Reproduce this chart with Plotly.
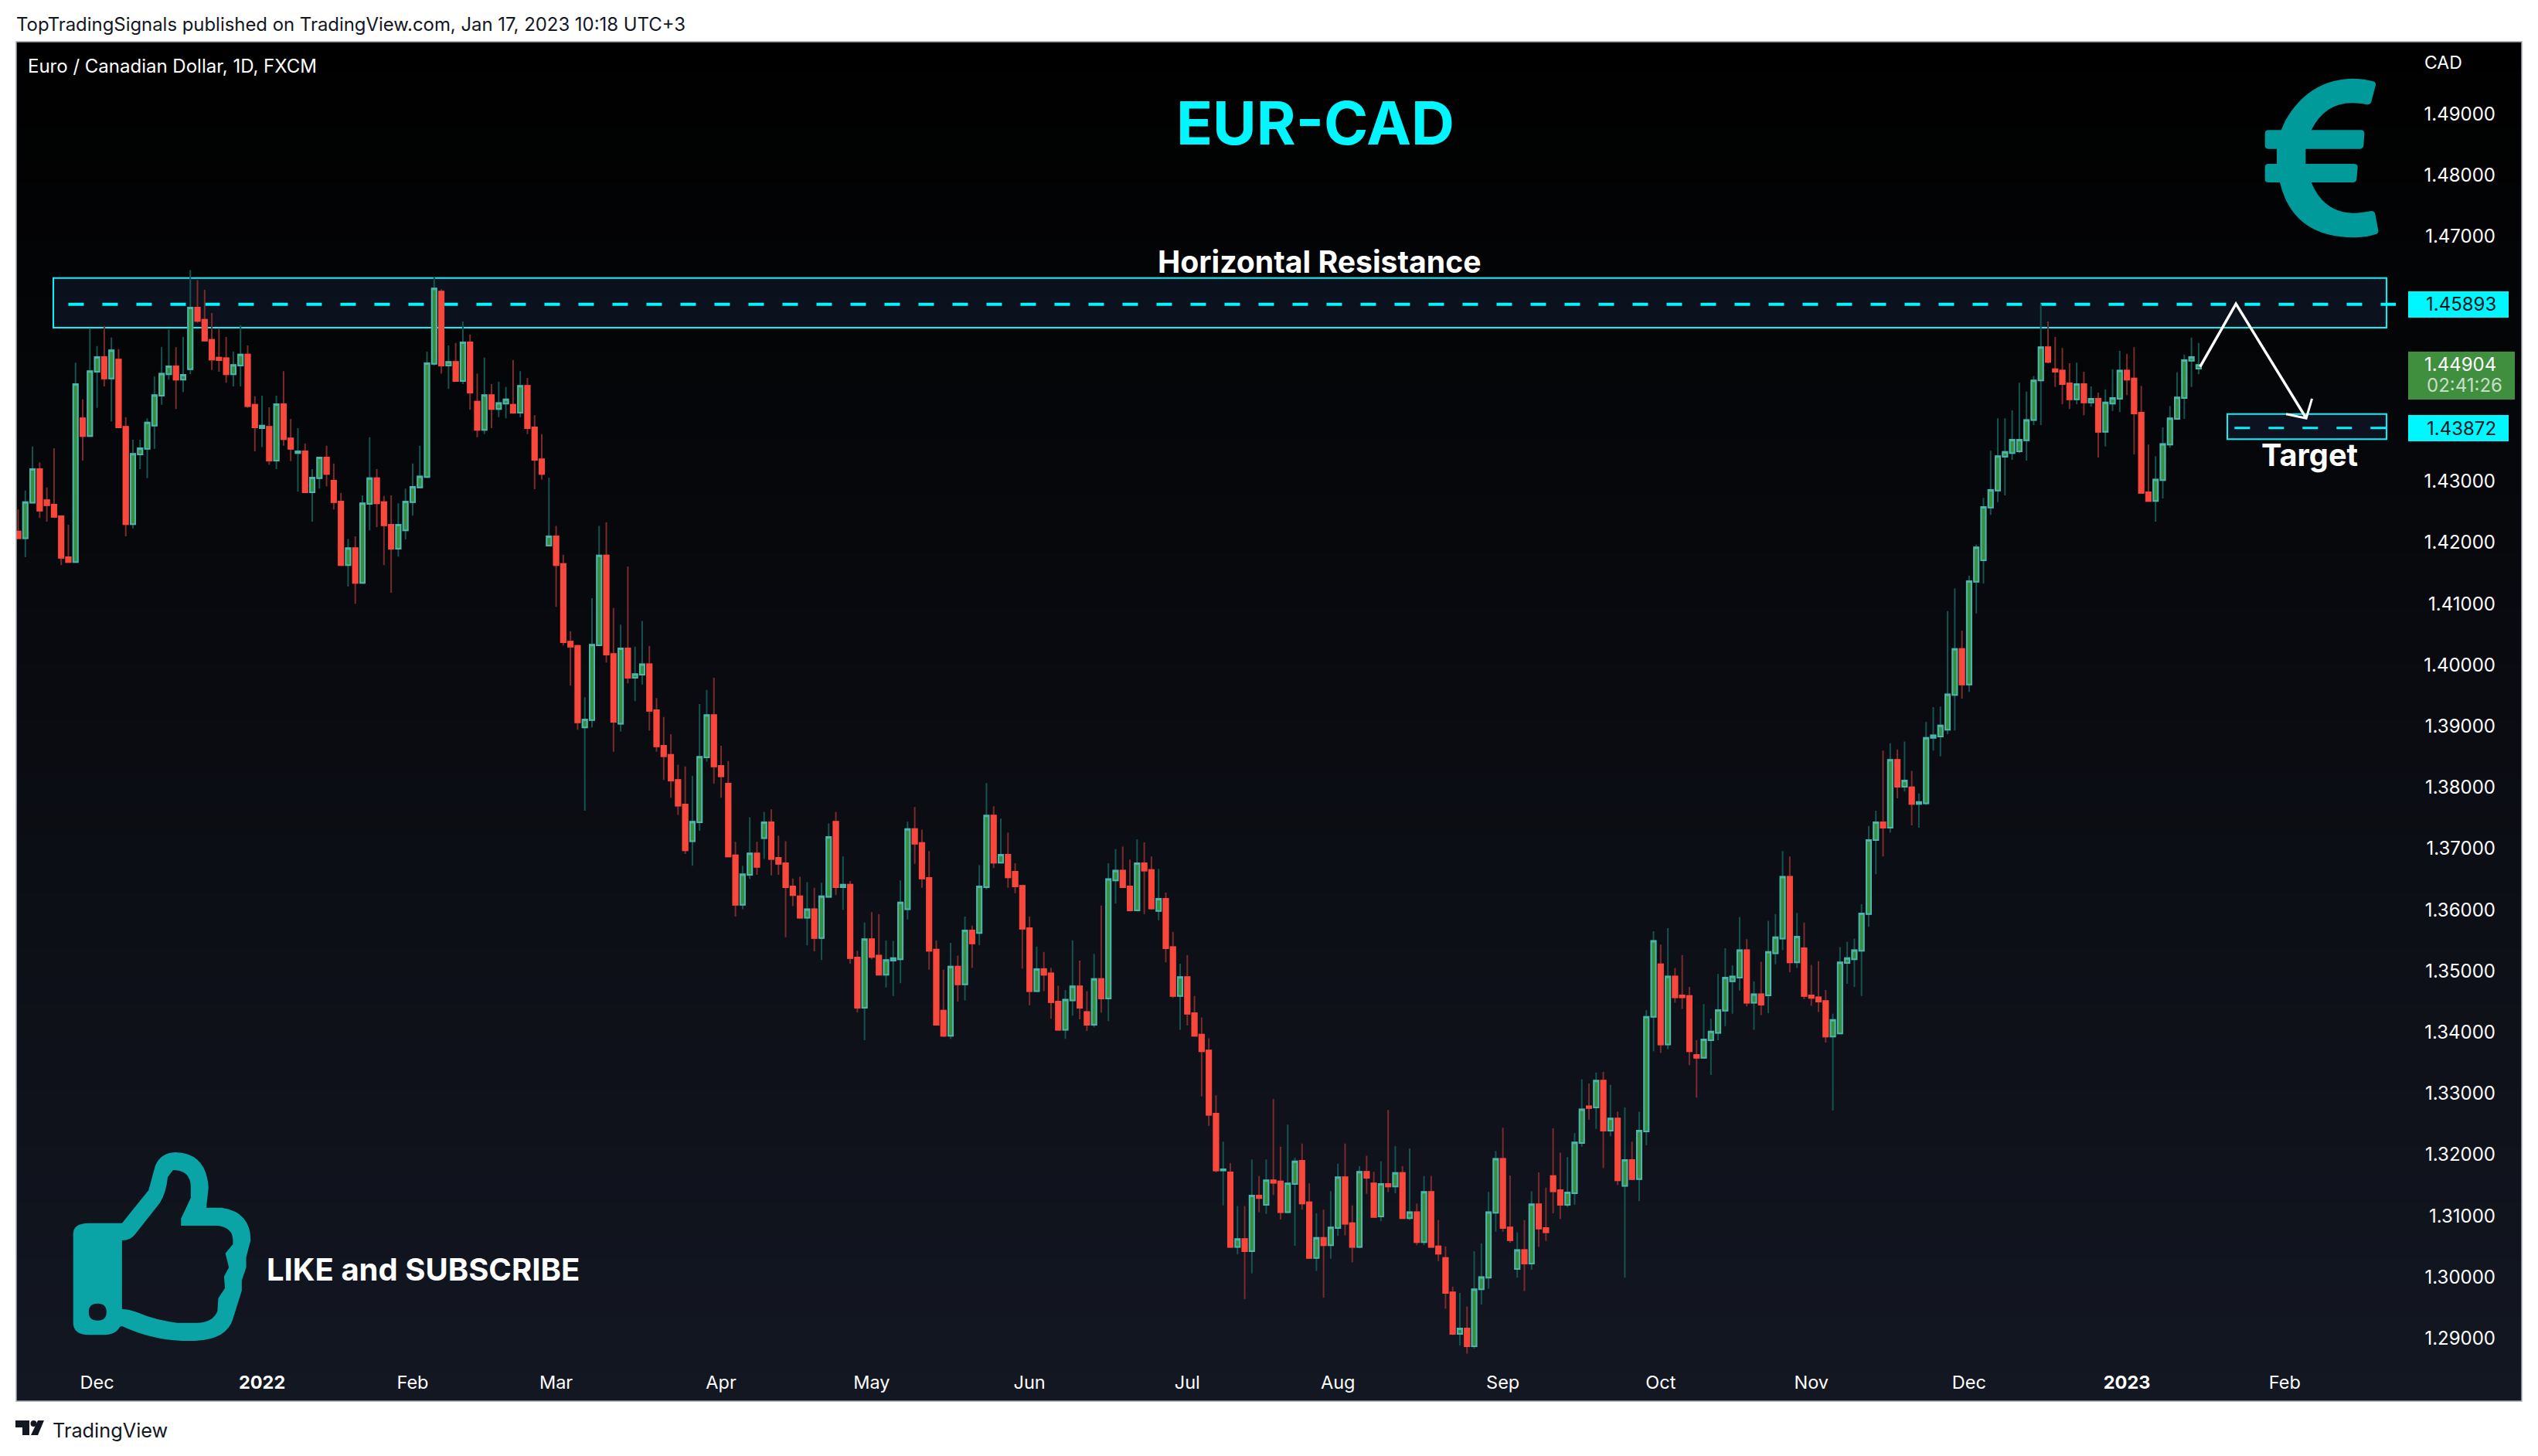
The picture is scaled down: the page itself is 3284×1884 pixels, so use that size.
import plotly.graph_objects as go
import numpy as np

open_ = [
1.4218,1.4207,1.4265,1.4320,1.4269,1.4262,1.4243,1.4176,1.4168,1.4403,
1.4374,1.4479,1.4503,1.4468,1.4499,1.4389,1.4230,1.4344,1.4353,1.4391,
1.4440,1.4475,1.4488,1.4466,1.4483,1.4584,1.4564,1.4531,1.4502,1.4501,
1.4475,1.4489,1.4507,1.4425,1.4387,1.4389,1.4334,1.4426,1.4370,1.4346,
1.4349,1.4282,1.4305,1.4339,1.4301,1.4267,1.4163,1.4191,1.4134,1.4263,
1.4305,1.4266,1.4229,1.4190,1.4220,1.4266,1.4290,1.4307,1.4492,1.4610,
1.4489,1.4495,1.4464,1.4527,1.4430,1.4384,1.4441,1.4418,1.4427,1.4425,
1.4412,1.4456,1.4388,1.4336,1.4195,1.4210,1.4165,1.4038,1.4031,1.3898,
1.3910,1.4032,1.4179,1.4018,1.3904,1.4027,1.3979,1.3984,1.4001,1.3926,
1.3868,1.3853,1.3812,1.3772,1.3712,1.3743,1.3849,1.3918,1.3835,1.3806,
1.3689,1.3608,1.3657,1.3692,1.3717,1.3743,1.3685,1.3676,1.3638,1.3622,
1.3587,1.3601,1.3554,1.3621,1.3744,1.3637,1.3641,1.3522,1.3440,1.3552,
1.3525,1.3494,1.3517,1.3519,1.3601,1.3732,1.3709,1.3652,1.3535,1.3435,
1.3394,1.3507,1.3478,1.3566,1.3562,1.3637,1.3754,1.3677,1.3690,1.3662,
1.3639,1.3570,1.3467,1.3503,1.3496,1.3450,1.3404,1.3452,1.3475,1.3433,
1.3412,1.3487,1.3455,1.3648,1.3664,1.3638,1.3599,1.3676,1.3665,1.3598,
1.3618,1.3539,1.3459,1.3490,1.3431,1.3396,1.3370,1.3267,1.3174,1.3171,
1.3049,1.3062,1.3042,1.3133,1.3118,1.3158,1.3156,1.3106,1.3152,1.3190,
1.3122,1.3031,1.3064,1.3052,1.3080,1.3163,1.3088,1.3049,1.3172,1.3153,
1.3099,1.3152,1.3148,1.3170,1.3096,1.3106,1.3057,1.3139,1.3050,1.3031,
1.2975,1.2907,1.2916,1.2887,1.2980,1.2999,1.3105,1.3193,1.3081,1.3013,
1.3044,1.3022,1.3119,1.3080,1.3165,1.3142,1.3118,1.3137,1.3219,1.3279,
1.3277,1.3321,1.3239,1.3259,1.3149,1.3191,1.3160,1.3238,1.3425,1.3511,
1.3380,1.3491,1.3460,1.3459,1.3363,1.3358,1.3387,1.3399,1.3435,1.3483,
1.3489,1.3534,1.3448,1.3462,1.3460,1.3529,1.3553,1.3654,1.3514,1.3537,
1.3460,1.3457,1.3451,1.3393,1.3398,1.3513,1.3519,1.3533,1.3593,1.3714,
1.3743,1.3734,1.3845,1.3801,1.3800,1.3773,1.3774,1.3881,1.3883,1.3894,
1.3951,1.4026,1.3968,1.4136,1.4171,1.4257,1.4285,1.4340,1.4346,1.4349,
1.4367,1.4400,1.4465,1.4519,1.4483,1.4481,1.4460,1.4434,1.4459,1.4429,
1.4435,1.4381,1.4427,1.4435,1.4481,1.4468,1.4412,1.4282,1.4268,1.4302,
1.4360,1.4402,1.4436,1.4497,1.4484]

high = [
1.4254,1.4285,1.4357,1.4331,1.4290,1.4354,1.4243,1.4229,1.4494,1.4434,
1.4550,1.4521,1.4554,1.4535,1.4516,1.4405,1.4368,1.4368,1.4403,1.4471,
1.4519,1.4548,1.4519,1.4536,1.4645,1.4629,1.4613,1.4575,1.4550,1.4536,
1.4512,1.4555,1.4522,1.4439,1.4440,1.4421,1.4440,1.4480,1.4402,1.4387,
1.4362,1.4320,1.4340,1.4358,1.4329,1.4281,1.4206,1.4210,1.4277,1.4372,
1.4320,1.4276,1.4277,1.4264,1.4288,1.4329,1.4358,1.4512,1.4634,1.4614,
1.4522,1.4526,1.4561,1.4540,1.4476,1.4502,1.4459,1.4463,1.4454,1.4498,
1.4480,1.4469,1.4408,1.4377,1.4306,1.4227,1.4180,1.4055,1.4033,1.3947,
1.4109,1.4227,1.4233,1.4093,1.4066,1.4161,1.4030,1.4072,1.4031,1.3946,
1.3915,1.3887,1.3837,1.3834,1.3819,1.3936,1.3959,1.3979,1.3868,1.3843,
1.3711,1.3672,1.3751,1.3711,1.3760,1.3764,1.3721,1.3712,1.3651,1.3654,
1.3645,1.3636,1.3644,1.3741,1.3760,1.3687,1.3647,1.3533,1.3579,1.3596,
1.3593,1.3550,1.3549,1.3648,1.3744,1.3768,1.3731,1.3696,1.3550,1.3502,
1.3546,1.3525,1.3589,1.3574,1.3673,1.3807,1.3769,1.3749,1.3726,1.3676,
1.3641,1.3589,1.3540,1.3531,1.3505,1.3476,1.3469,1.3550,1.3517,1.3467,
1.3528,1.3607,1.3676,1.3699,1.3703,1.3682,1.3715,1.3710,1.3687,1.3667,
1.3628,1.3564,1.3512,1.3526,1.3459,1.3424,1.3390,1.3297,1.3221,1.3186,
1.3116,1.3116,1.3192,1.3165,1.3192,1.3291,1.3213,1.3249,1.3195,1.3218,
1.3153,1.3104,1.3110,1.3140,1.3185,1.3218,1.3117,1.3181,1.3198,1.3172,
1.3189,1.3273,1.3214,1.3181,1.3210,1.3120,1.3165,1.3165,1.3093,1.3050,
1.2984,1.2974,1.2952,1.3042,1.3055,1.3139,1.3206,1.3244,1.3166,1.3073,
1.3093,1.3140,1.3171,1.3146,1.3243,1.3203,1.3196,1.3235,1.3323,1.3316,
1.3334,1.3335,1.3314,1.3270,1.3277,1.3221,1.3270,1.3436,1.3565,1.3543,
1.3570,1.3505,1.3526,1.3474,1.3387,1.3446,1.3422,1.3495,1.3537,1.3509,
1.3588,1.3552,1.3483,1.3515,1.3582,1.3593,1.3696,1.3687,1.3595,1.3579,
1.3510,1.3516,1.3469,1.3430,1.3539,1.3548,1.3553,1.3609,1.3737,1.3762,
1.3860,1.3872,1.3862,1.3875,1.3827,1.3790,1.3907,1.3931,1.3932,1.4088,
1.4125,1.4056,1.4146,1.4197,1.4273,1.4350,1.4403,1.4403,1.4416,1.4461,
1.4447,1.4472,1.4590,1.4561,1.4536,1.4518,1.4493,1.4494,1.4479,1.4455,
1.4445,1.4450,1.4483,1.4513,1.4508,1.4519,1.4456,1.4360,1.4341,1.4388,
1.4423,1.4478,1.4507,1.4535,1.4526]

low = [
1.4207,1.4176,1.4265,1.4240,1.4234,1.4240,1.4163,1.4168,1.4168,1.4334,
1.4374,1.4420,1.4455,1.4398,1.4388,1.4210,1.4223,1.4320,1.4305,1.4353,
1.4425,1.4466,1.4418,1.4446,1.4475,1.4559,1.4530,1.4482,1.4479,1.4461,
1.4455,1.4455,1.4420,1.4349,1.4356,1.4327,1.4320,1.4358,1.4333,1.4283,
1.4282,1.4234,1.4288,1.4292,1.4254,1.4162,1.4128,1.4100,1.4134,1.4220,
1.4225,1.4163,1.4118,1.4177,1.4205,1.4244,1.4290,1.4307,1.4489,1.4476,
1.4451,1.4464,1.4459,1.4417,1.4372,1.4377,1.4387,1.4405,1.4403,1.4412,
1.4405,1.4377,1.4287,1.4303,1.4195,1.4095,1.4032,1.3966,1.3894,1.3762,
1.3898,1.4032,1.4004,1.3858,1.3891,1.3970,1.3941,1.3968,1.3893,1.3858,
1.3812,1.3783,1.3755,1.3691,1.3672,1.3729,1.3842,1.3806,1.3783,1.3687,
1.3589,1.3601,1.3650,1.3657,1.3683,1.3656,1.3657,1.3555,1.3606,1.3587,
1.3542,1.3532,1.3518,1.3621,1.3624,1.3600,1.3512,1.3432,1.3387,1.3519,
1.3494,1.3473,1.3459,1.3480,1.3584,1.3675,1.3636,1.3502,1.3412,1.3392,
1.3389,1.3450,1.3452,1.3505,1.3542,1.3633,1.3668,1.3677,1.3636,1.3627,
1.3504,1.3444,1.3467,1.3467,1.3422,1.3404,1.3389,1.3427,1.3421,1.3402,
1.3408,1.3432,1.3418,1.3610,1.3636,1.3598,1.3599,1.3593,1.3600,1.3583,
1.3514,1.3456,1.3404,1.3411,1.3394,1.3295,1.3247,1.3171,1.3117,1.3049,
1.3037,1.2964,1.3006,1.3106,1.3103,1.3134,1.3094,1.3106,1.3051,1.3110,
1.3030,1.3010,1.2966,1.3030,1.3067,1.3068,1.3024,1.3047,1.3136,1.3097,
1.3091,1.3139,1.3137,1.3096,1.3093,1.3052,1.3052,1.3049,1.3026,1.2948,
1.2905,1.2888,1.2875,1.2883,1.2955,1.2981,1.3074,1.3074,1.3056,1.2999,
1.2977,1.3012,1.3049,1.3059,1.3104,1.3095,1.3114,1.3118,1.3213,1.3257,
1.3242,1.3178,1.3230,1.3150,1.2999,1.3160,1.3124,1.3215,1.3369,1.3366,
1.3372,1.3448,1.3438,1.3346,1.3293,1.3358,1.3330,1.3387,1.3410,1.3430,
1.3468,1.3442,1.3404,1.3428,1.3431,1.3511,1.3534,1.3498,1.3505,1.3454,
1.3443,1.3433,1.3383,1.3272,1.3398,1.3479,1.3474,1.3459,1.3572,1.3658,
1.3687,1.3726,1.3782,1.3793,1.3738,1.3734,1.3771,1.3860,1.3851,1.3887,
1.3893,1.3945,1.3956,1.4084,1.4133,1.4245,1.4266,1.4277,1.4335,1.4346,
1.4334,1.4392,1.4392,1.4493,1.4454,1.4426,1.4418,1.4426,1.4408,1.4422,
1.4339,1.4357,1.4415,1.4413,1.4441,1.4344,1.4281,1.4268,1.4234,1.4272,
1.4355,1.4402,1.4402,1.4454,1.4475]

close = [
1.4207,1.4266,1.4320,1.4252,1.4261,1.4242,1.4175,1.4168,1.4459,1.4374,
1.4480,1.4503,1.4468,1.4514,1.4388,1.4230,1.4345,1.4354,1.4396,1.4441,
1.4476,1.4488,1.4466,1.4474,1.4584,1.4562,1.4530,1.4499,1.4498,1.4475,
1.4490,1.4507,1.4423,1.4388,1.4391,1.4334,1.4426,1.4369,1.4353,1.4349,
1.4282,1.4306,1.4339,1.4312,1.4266,1.4163,1.4191,1.4134,1.4264,1.4305,
1.4264,1.4228,1.4190,1.4229,1.4267,1.4291,1.4308,1.4493,1.4615,1.4489,
1.4495,1.4464,1.4527,1.4445,1.4384,1.4441,1.4418,1.4428,1.4434,1.4412,
1.4456,1.4387,1.4335,1.4312,1.4210,1.4163,1.4037,1.4030,1.3906,1.3911,
1.4033,1.4179,1.4017,1.3907,1.4027,1.3979,1.3985,1.4001,1.3925,1.3867,
1.3851,1.3811,1.3770,1.3697,1.3744,1.3850,1.3918,1.3834,1.3818,1.3687,
1.3608,1.3658,1.3692,1.3670,1.3743,1.3683,1.3675,1.3637,1.3624,1.3587,
1.3601,1.3554,1.3622,1.3719,1.3637,1.3641,1.3521,1.3440,1.3552,1.3523,
1.3494,1.3518,1.3521,1.3612,1.3732,1.3708,1.3651,1.3533,1.3412,1.3394,
1.3507,1.3478,1.3566,1.3545,1.3638,1.3754,1.3677,1.3690,1.3653,1.3638,
1.3569,1.3467,1.3503,1.3494,1.3449,1.3404,1.3453,1.3475,1.3440,1.3412,
1.3487,1.3455,1.3650,1.3664,1.3637,1.3599,1.3676,1.3664,1.3602,1.3618,
1.3537,1.3459,1.3490,1.3430,1.3394,1.3369,1.3265,1.3174,1.3176,1.3049,
1.3062,1.3042,1.3133,1.3129,1.3158,1.3154,1.3106,1.3153,1.3189,1.3120,
1.3031,1.3064,1.3052,1.3081,1.3163,1.3087,1.3049,1.3172,1.3162,1.3098,
1.3152,1.3148,1.3170,1.3096,1.3106,1.3057,1.3139,1.3049,1.3038,1.2974,
1.2907,1.2916,1.2887,1.2980,1.3000,1.3106,1.3193,1.3080,1.3060,1.3044,
1.3022,1.3119,1.3079,1.3073,1.3140,1.3118,1.3138,1.3220,1.3274,1.3276,
1.3321,1.3239,1.3259,1.3158,1.3191,1.3160,1.3239,1.3425,1.3549,1.3380,
1.3491,1.3457,1.3457,1.3369,1.3358,1.3388,1.3401,1.3436,1.3489,1.3491,
1.3534,1.3448,1.3462,1.3445,1.3531,1.3555,1.3654,1.3514,1.3556,1.3459,
1.3456,1.3450,1.3393,1.3420,1.3514,1.3521,1.3534,1.3594,1.3714,1.3743,
1.3734,1.3845,1.3801,1.3811,1.3773,1.3776,1.3881,1.3885,1.3901,1.3952,
1.4026,1.3968,1.4137,1.4192,1.4258,1.4286,1.4341,1.4348,1.4368,1.4368,
1.4400,1.4465,1.4519,1.4495,1.4479,1.4459,1.4434,1.4459,1.4429,1.4435,
1.4381,1.4429,1.4436,1.4481,1.4466,1.4411,1.4281,1.4268,1.4303,1.4361,
1.4403,1.4437,1.4498,1.4503,1.4490]

bar_index = list(range(len(open_)))
tick_bars = [11, 34, 55, 75, 98, 119, 141, 163, 184, 207, 229, 250, 272, 294, 316]
tick_labels = ["Dec", "<b>2022</b>", "Feb", "Mar", "Apr", "May", "Jun", "Jul", "Aug",
               "Sep", "Oct", "Nov", "Dec", "<b>2023</b>", "Feb"]
price_ticks = [1.29, 1.30, 1.31, 1.32, 1.33, 1.34, 1.35, 1.36, 1.37, 1.38,
               1.39, 1.40, 1.41, 1.42, 1.43, 1.47, 1.48, 1.49]
resistance_price = 1.45893
target_price = 1.43872
last_price = 1.44904
path_bars = [304.2, 309.2, 319.0]
path_prices = [1.4487, 1.4590, 1.4403]
arrow_bars = [319.8, 319.0, 316.2]
arrow_prices = [1.4435, 1.4403, 1.4410]

W, H = 3284, 1884
L, R, T, B = 21, 3263, 54, 1813
FONT = "Inter"
CYAN = "#00F7FF"
UP_FILL, UP_EDGE, UP_WICK = "#388E3C", "#4DB6AC", "#155350"
DN_FILL, DN_WICK = "#F9473C", "#7A2B2B"


def xp(px):
    return (px - L) / (R - L)


def yp(py):
    return 1 - (py - T) / (B - T)


def pt(x, y):
    return f"{xp(x):.5f} {yp(y):.5f}"


def zoom_path(segments, conv):
    out = []
    for seg in segments:
        cmd, coords = seg[0], seg[1:]
        conv_pts = [pt(*conv(*c)) for c in coords]
        out.append(cmd + " ".join(conv_pts))
    return " ".join(out) + " Z"


def thumb_conv(x, y):
    return x / 1.742, 1440 + y / 3


def euro_conv(x, y):
    return 2800 + x / 3, y / 3


thumb_outer = [("M", (165, 470)), ("Q", (165, 428), (200, 428)), ("L", (275, 428)), ("L", (335, 300)),
               ("L", (350, 205)), ("Q", (362, 155), (395, 153)), ("Q", (465, 155), (470, 290)), ("L", (465, 368)),
               ("L", (500, 368)), ("Q", (565, 385), (565, 495)), ("L", (555, 560)), ("L", (555, 600)), ("L", (545, 650)),
               ("L", (545, 690)), ("L", (535, 745)), ("L", (525, 800)), ("Q", (510, 885), (430, 885)), ("L", (410, 885)),
               ("Q", (340, 880), (275, 828)), ("L", (270, 830)), ("Q", (262, 862), (230, 862)), ("L", (200, 862)),
               ("Q", (165, 860), (165, 815))]
thumb_inner = [("M", (275, 495)), ("Q", (295, 495), (305, 470)), ("L", (360, 350)), ("Q", (375, 310), (378, 250)),
               ("L", (390, 222)), ("Q", (430, 222), (430, 290)), ("L", (430, 330)), ("L", (408, 410)), ("L", (408, 438)),
               ("L", (490, 438)), ("Q", (525, 445), (525, 495)), ("L", (525, 510)), ("L", (508, 545)), ("L", (516, 600)),
               ("L", (505, 635)), ("L", (507, 680)), ("L", (492, 720)), ("L", (490, 770)), ("Q", (480, 815), (440, 815)),
               ("L", (400, 815)), ("Q", (350, 805), (310, 775)), ("Q", (290, 762), (275, 762))]
thumb_hole = [("M", (200, 773)), ("Q", (200, 740), (220, 740)), ("Q", (240, 740), (240, 773)),
              ("Q", (240, 806), (220, 806)), ("Q", (200, 806), (200, 773))]
euro = [("M", (810, 315)), ("Q", (770, 305), (730, 305)), ("Q", (560, 310), (470, 470)), ("L", (455, 505)),
        ("L", (405, 505)), ("Q", (392, 505), (392, 520)), ("L", (392, 565)), ("Q", (392, 578), (405, 578)),
        ("L", (438, 578)), ("L", (438, 636)), ("L", (405, 636)), ("Q", (392, 636), (392, 650)), ("L", (392, 695)),
        ("Q", (392, 708), (405, 708)), ("L", (450, 708)), ("Q", (500, 920), (735, 922)), ("Q", (790, 922), (820, 910)),
        ("Q", (835, 905), (832, 895)), ("L", (820, 830)), ("Q", (815, 815), (800, 820)), ("Q", (770, 827), (735, 827)),
        ("Q", (620, 825), (572, 708)), ("L", (735, 708)), ("Q", (745, 708), (748, 695)), ("L", (752, 650)),
        ("Q", (752, 636), (738, 636)), ("L", (550, 636)), ("L", (550, 578)), ("L", (762, 578)),
        ("Q", (772, 578), (775, 565)), ("L", (778, 520)), ("Q", (778, 505), (765, 505)), ("L", (572, 505)),
        ("Q", (625, 400), (730, 400)), ("Q", (765, 400), (785, 405)), ("Q", (800, 408), (805, 395)),
        ("L", (822, 330)), ("Q", (824, 318), (810, 315))]

shapes = []
BANDS = 48
for k in range(BANDS):
    f = (k + 0.5) / BANDS
    col = f"rgb({round(19*f)},{round(23*f)},{round(34*f)})"
    # each band runs to the bottom so no seams show between neighbours
    shapes.append(dict(type="rect", xref="paper", yref="paper", x0=0, x1=1,
                       y0=1 - k / BANDS, y1=0, fillcolor=col,
                       line=dict(width=0), layer="below"))

box_fill = "rgba(40,70,120,0.2)"
shapes += [
    dict(type="rect", xref="x", yref="y", x0=4.9, x1=330.2, y0=1.4551, y1=1.4632,
         fillcolor=box_fill, line=dict(color=CYAN, width=2), layer="below"),
    dict(type="line", xref="x", yref="y", x0=7, x1=331.5, y0=resistance_price, y1=resistance_price,
         line=dict(color=CYAN, width=4, dash="20px,24px"), layer="below"),
    dict(type="rect", xref="x", yref="y", x0=308, x1=330.2, y0=1.4369, y1=1.4410,
         fillcolor=box_fill, line=dict(color=CYAN, width=2), layer="below"),
    dict(type="line", xref="x", yref="y", x0=309, x1=331.5, y0=target_price, y1=target_price,
         line=dict(color=CYAN, width=3, dash="20px,24px"), layer="below"),
    # price tags on the scale
    dict(type="rect", xref="paper", yref="paper", x0=xp(3116), x1=xp(3246), y0=yp(377), y1=yp(411),
         fillcolor=CYAN, line=dict(width=0), layer="above"),
    dict(type="rect", xref="paper", yref="paper", x0=xp(3116), x1=xp(3254), y0=yp(455), y1=yp(517),
         fillcolor="#3F8F3F", line=dict(width=0), layer="above"),
    dict(type="rect", xref="paper", yref="paper", x0=xp(3116), x1=xp(3246), y0=yp(537), y1=yp(571),
         fillcolor=CYAN, line=dict(width=0), layer="above"),
    # pictograms
    dict(type="path", xref="paper", yref="paper",
         path=zoom_path(thumb_outer, thumb_conv) + " " + zoom_path(thumb_inner, thumb_conv) + " " + zoom_path(thumb_hole, thumb_conv),
         fillcolor="#0AA3A6", line=dict(width=0), fillrule="evenodd", layer="above"),
    dict(type="path", xref="paper", yref="paper", path=zoom_path(euro, euro_conv),
         fillcolor="#009A9A", line=dict(width=0), layer="above"),
    # frame
    dict(type="rect", xref="paper", yref="paper", x0=0, x1=1, y0=0, y1=1,
         line=dict(color="#A8ABB4", width=1.5), layer="above"),
    # TradingView mark
    dict(type="path", xref="paper", yref="paper",
         path=f"M{pt(20,1838)} L{pt(38,1838)} L{pt(38,1857)} L{pt(29,1857)} L{pt(29,1847)} L{pt(20,1847)} Z "
              f"M{pt(49,1838)} L{pt(57,1838)} L{pt(49,1857)} L{pt(40,1857)} Z",
         fillcolor="#131722", line=dict(width=0), layer="above"),
    dict(type="circle", xref="paper", yref="paper", x0=xp(39.5), x1=xp(47.5), y0=yp(1846), y1=yp(1838),
         fillcolor="#131722", line=dict(width=0), layer="above"),
]


def note(text, x, y, size, color="#FFFFFF", anchor="center", font=FONT):
    return dict(text=text, x=xp(x), y=yp(y), xref="paper", yref="paper", showarrow=False,
                xanchor=anchor, yanchor="middle", font=dict(family=font, size=size, color=color))


annotations = [
    note("TopTradingSignals published on TradingView.com, Jan 17, 2023 10:18 UTC+3", 19, 31, 23.9, "#131722", "left"),
    note("Euro / Canadian Dollar, 1D, FXCM", 34, 86, 24, "#FFFFFF", "left"),
    note("<b>EUR-CAD</b>", 1702, 159, 77.5, "#00F7FF"),
    note("<b>Horizontal Resistance</b>", 1707, 339, 39.2),
    note("<b>Target</b>", 2988, 589, 39.7),
    note("<b>LIKE and SUBSCRIBE</b>", 547, 1642, 40),
    note("CAD", 3135, 81, 23, "#FFFFFF", "left"),
    note("TradingView", 66, 1850, 25.3, "#131722", "left"),
    note(f"{resistance_price:.5f}", 3232, 394, 24, "#131722", "right"),
    note(f"{target_price:.5f}", 3232, 554, 24, "#131722", "right"),
    note(f"{last_price:.5f}", 3232, 472, 24, "#FFFFFF", "right"),
    note("02:41:26", 3240, 499, 24, "#C6DFC6", "right"),
]

o, c = np.array(open_), np.array(close)
body_hi, body_lo = np.maximum(o, c), np.minimum(o, c)

fig = go.Figure()
fig.add_trace(go.Candlestick(
    x=bar_index, open=open_, high=high, low=low, close=close,
    increasing=dict(line=dict(color=UP_WICK, width=2), fillcolor=UP_WICK),
    decreasing=dict(line=dict(color=DN_WICK, width=2), fillcolor=DN_WICK),
    whiskerwidth=0, showlegend=False, hoverinfo="skip"))
fig.add_trace(go.Candlestick(
    x=bar_index, open=open_, high=body_hi, low=body_lo, close=close,
    increasing=dict(line=dict(color=UP_EDGE, width=2), fillcolor=UP_FILL),
    decreasing=dict(line=dict(color=DN_FILL, width=2), fillcolor=DN_FILL),
    whiskerwidth=0, showlegend=False, hoverinfo="skip"))
fig.add_trace(go.Scatter(x=path_bars, y=path_prices, mode="lines", showlegend=False, hoverinfo="skip",
                         line=dict(color="#FFFFFF", width=3.5)))
fig.add_trace(go.Scatter(x=arrow_bars, y=arrow_prices, mode="lines", showlegend=False, hoverinfo="skip",
                         line=dict(color="#FFFFFF", width=3)))

fig.update_layout(
    width=W, height=H, autosize=False,
    margin=dict(l=L, r=W - R, t=T, b=H - B, pad=0),
    paper_bgcolor="#FFFFFF", plot_bgcolor="rgba(0,0,0,0)",
    showlegend=False, boxgap=0.35, boxgroupgap=0,
    shapes=shapes, annotations=annotations,
    font=dict(family=FONT),
    xaxis=dict(range=[-0.27, 349.05], rangeslider=dict(visible=False), showgrid=False, zeroline=False,
               showline=False, tickmode="array", tickvals=tick_bars, ticktext=tick_labels,
               ticks="", ticklabelposition="inside", ticklabelstandoff=8,
               tickfont=dict(family=FONT, size=23.5, color="#FFFFFF")),
    yaxis=dict(range=[1.27972, 1.50182], side="right", showgrid=False, zeroline=False, showline=False,
               tickmode="array", tickvals=price_ticks, ticktext=[f"{p:.5f}" for p in price_ticks],
               ticks="", ticklabelposition="inside", ticklabelstandoff=31,
               tickfont=dict(family=FONT, size=24, color="#FFFFFF")),
)
fig.write_html("out.html", config=dict(displayModeBar=False),
               post_script="document.body.style.margin='0';")
